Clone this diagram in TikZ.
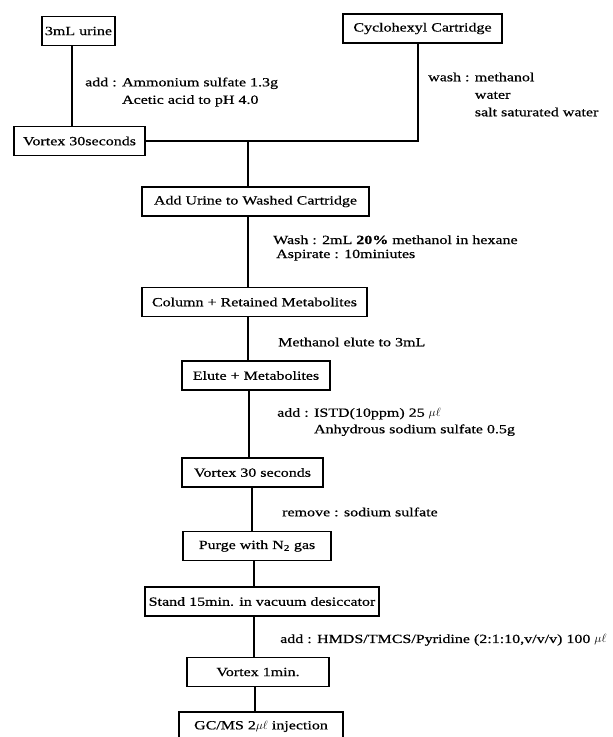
\documentclass[tikz,border=0pt]{standalone}
\usepackage{fontspec}
\setmainfont[FakeStretch=1.28,FakeBold=0.6]{Liberation Serif}
\usetikzlibrary{
  positioning, % for relative positioning
}
\tikzset{
  stepbox/.style={ % style for each step of the procedure
    rectangle,draw,line width=1.2pt, % drawn as a plain rectangle
    minimum height=29pt, % every step box has the same height
    inner sep=2pt, % little padding around the text
    font=\fontsize{12.5}{15}\selectfont,
  },
  note/.style={ % style for the reagents written beside a line
    anchor=west,inner sep=0pt,align=left, % left aligned text block
    font=\fontsize{12.5}{17.5}\selectfont,
  },
  conn/.style={ % style for the connections
    line width=1.2pt, % plain line, no arrow tip
  },
}

\begin{document}
\begin{tikzpicture}[x=1pt,y=-1pt]
	\useasboundingbox (0,0) rectangle (613,737);

	\node[stepbox,minimum width=73pt] (urine) at (78.5,31) {3mL urine};
	\node[stepbox,minimum width=159pt] (cart) at (422.5,28.5) {Cyclohexyl Cartridge};
	\node[stepbox,minimum width=131pt] (vortexA) at (79.5,141) {Vortex 30seconds};
	\node[stepbox,minimum width=227pt] (add) at (255.5,201.5) {Add Urine to Washed Cartridge};
	\node[stepbox,minimum width=225pt] (col) at (254.5,302) {Column + Retained Metabolites};
	\node[stepbox,minimum width=148pt] (elute) at (256,375.5) {Elute + Metabolites};
	\node[stepbox,minimum width=141pt] (vortexB) at (252.5,472.5) {Vortex 30 seconds};
	\node[stepbox,minimum width=148pt] (purge) at (257,546) {Purge with N\textsubscript{2} gas};
	\node[stepbox,minimum width=234pt] (stand) at (262,601.5) {Stand 15min. in vacuum desiccator};
	\node[stepbox,minimum width=142pt] (vortexC) at (258,672) {Vortex 1min.};
	\node[stepbox,minimum width=164pt] (gc) at (261,726.5) {GC/MS 2$\mu\ell$ injection};

	\node[note] (addA) at (85,92) {add : Ammonium sulfate 1.3g\\\hphantom{add : }Acetic acid to pH 4.0};
	\node[note] (washA) at (428,94.5) {wash : methanol\\\hphantom{wash : }water\\\hphantom{wash : }salt saturated water};
	\node[note,font=\fontsize{12.5}{14}\selectfont] (washB) at (273,248) {Wash : 2mL \textbf{20\%} methanol in hexane\\\hspace{3pt}Aspirate : 10miniutes};
	\node[note] (elu) at (278,342) {Methanol elute to 3mL};
	\node[note,font=\fontsize{12.5}{16.5}\selectfont] (istd) at (277,422) {add : ISTD(10ppm) 25 $\mu\ell$\\\hphantom{add : }Anhydrous sodium sulfate 0.5g};
	\node[note] (rem) at (282,512) {remove : sodium sulfate};
	\node[note] (hmds) at (280,640) {add : HMDS/TMCS/Pyridine (2:1:10,v/v/v) 100 $\mu\ell$};

	\draw[conn] ([xshift=-6.5pt]urine.south) -- ([xshift=-6.5pt]urine.south |- vortexA.north);
	\draw[conn] ([xshift=-4.5pt]cart.south) |- (vortexA.east);
	\draw[conn] ([xshift=-7.5pt]add.north) -- ([xshift=-7.5pt]add.north |- vortexA.east);
	\foreach \a/\b/\dx in {add/col/-7.5,col/elute/-6.5,elute/vortexB/-7,vortexB/purge/-0.5,purge/stand/-3,stand/vortexC/-8,vortexC/gc/-3}
		\draw[conn] ([xshift=\dx pt]\a.south) -- ([xshift=\dx pt]\a.south |- \b.north);

\end{tikzpicture}
\end{document}
